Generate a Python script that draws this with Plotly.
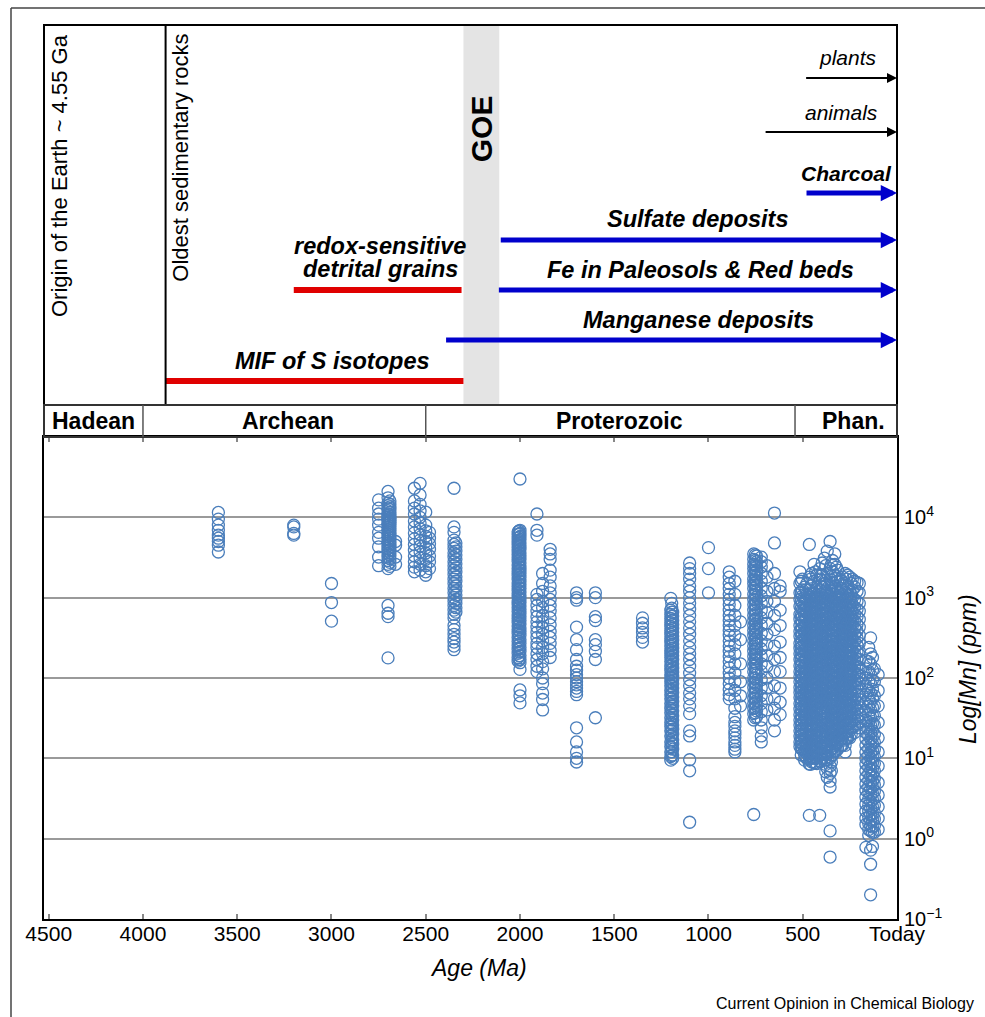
import plotly.graph_objects as go

# ---------------- DATA ----------------
# Mn concentration (ppm) of samples, grouped by sample age (Ma)
mn_3600 = [11500, 9500, 8000, 6900, 6000, 5500, 5000, 4500, 3700]
mn_3200 = [8000, 7600, 6300, 6000]
mn_3000 = [1500, 870, 510]
mn_2750 = [16500, 13000, 11000, 9500, 8000, 6500, 5500, 4300, 3200, 2500]
mn_2700 = [21000, 17500, 15000, 14000, 13000, 12000, 11000, 10500, 10000, 9500, 9000, 8500,
           8000, 7500, 7000, 6600, 6200, 5800, 5400, 5000, 4700, 4400, 4100, 3800, 3500,
           3200, 2900, 2600, 2300, 800, 640, 580, 178]
mn_2690 = [16000, 14500, 13500, 12500, 11500, 10800, 10200, 9700, 9200, 8700, 8200, 7700, 7200,
           6800, 6400, 6000, 5600, 5200, 4850, 4550, 4250, 3950, 3650, 3350, 3050, 2750, 2450]
mn_2660 = [5000, 4500, 3200, 2600]
mn_2560 = [23000, 16000, 13000, 11000, 9000, 7600, 6400, 5400, 4600, 3900, 3300, 2800, 2400, 2100]
mn_2530 = [26500, 19000, 14500, 12000, 10000, 8500, 7200, 6100, 5200, 4400, 3700, 3100, 2600, 2200]
mn_2500 = [11600, 8000, 6800, 5800, 5000, 4200, 3600, 3000, 2500, 2100, 1900]
mn_2480 = [6500, 5500, 4700, 4000, 3300, 2800, 2300]
mn_2350 = [23000, 7600, 6500, 5200, 4600, 4100, 3600, 3200, 2800, 2500, 2200, 1950, 1700, 1500,
           1300, 1150, 1000, 900, 800, 700, 620, 560, 450, 400, 350, 310, 280, 250, 225]
mn_2340 = [4800, 4300, 3800, 3400, 3000, 2650, 2350, 2080, 1820, 1600, 1400, 1220, 1080, 950,
           850, 750, 660]
mn_2000 = [30000, 6900, 6300, 5800, 5300, 4800, 4400, 4000, 3600, 3300, 3000, 2700, 2400, 2200,
           2000, 1800, 1600, 1450, 1300, 1180, 1060, 960, 870, 790, 710, 640, 580, 520, 470,
           420, 380, 340, 300, 270, 240, 215, 190, 170, 155, 128, 71, 60, 49]
mn_2005 = [6750, 6200, 5650, 5150, 4700, 4300, 3900, 3550, 3230, 2930, 2650, 2400, 2170, 1960,
           1770, 1600, 1450, 1310, 1190, 1080, 980, 890, 810, 735, 665, 600, 540, 487, 438, 394,
           355, 320, 288, 260, 234, 210, 189, 170]
mn_2010 = [6600, 6100, 5500, 5000, 4600, 4200, 3800, 3450, 3150, 2850, 2550, 2300, 2100, 1900,
           1700, 1520, 1380, 1240, 1120, 1010, 910, 830, 750, 675, 610, 550, 495, 445, 400, 360,
           320, 285, 255, 228, 203, 180, 162]
mn_1910 = [11000, 6900, 6000, 1100, 950, 800, 680, 580, 500, 430, 370, 320, 270, 240, 200, 170, 140, 120]
mn_1880 = [2000, 1500, 1200, 900, 750, 600, 500, 420, 350, 290, 240, 200, 160, 130, 100, 85, 65, 54, 40]
mn_1840 = [4000, 3500, 3000, 2200, 1800, 1400, 1150, 950, 800, 680, 560, 460, 380, 320, 270, 220, 180]
mn_1700 = [1150, 1000, 930, 430, 300, 225, 170, 140, 125, 110, 100, 90, 82, 75, 68, 62, 24, 16, 12, 10, 9]
mn_1600 = [1150, 1000, 580, 520, 300, 260, 215, 170, 32]
mn_1350 = [560, 480, 420, 370, 320, 280]
mn_1200 = [980, 700, 620, 550, 490, 440, 390, 350, 310, 280, 250, 220, 200, 180, 160, 140, 125,
           110, 100, 90, 80, 70, 62, 55, 48, 42, 37, 32, 28, 25, 22, 19, 16, 14, 12, 10.5, 9.5]
mn_1195 = [850, 740, 660, 585, 520, 462, 410, 365, 325, 290, 258, 230, 205, 182, 162, 144, 128,
           114, 101, 90, 80, 71, 63, 56, 50, 44.5, 39.5, 35, 31, 27.5, 24.5, 21.8, 19.4, 17.2,
           15.3, 13.6, 12.1, 10.8]
mn_1190 = [660, 590, 520, 465, 415, 370, 330, 295, 265, 235, 210, 190, 170, 150, 132, 118, 105,
           95, 85, 75, 66, 58, 51, 45, 39, 34, 30, 26, 23, 20, 17, 15, 13, 11, 10]
mn_1100 = [2700, 2300, 2000, 1700, 1400, 1200, 1000, 850, 720, 600, 500, 420, 350, 290, 240, 200,
           170, 140, 115, 95, 80, 65, 55, 45, 36, 22, 19, 9.6, 7, 1.6]
mn_1000 = [4200, 2300, 1150]
mn_890 = [2100, 1800, 1500, 1300, 1100, 950, 820, 700, 600, 520, 450, 390, 340, 290, 250, 215,
          185, 160, 135, 115, 100, 85, 72, 62, 55]
mn_860 = [1600, 1100, 800, 600, 450, 340, 260, 200, 150, 115, 90, 70, 55, 42, 33, 28, 25, 22, 20,
          18, 16, 14.5, 13, 12]
mn_830 = [500, 300, 150, 90, 60, 45]
mn_760 = [3500, 3000, 2600, 2300, 2000, 1700, 1500, 1300, 1100, 950, 820, 700, 600, 520, 450, 390,
          340, 290, 250, 215, 185, 160, 140, 120, 100, 88, 76, 65, 56, 48, 42, 36, 30, 2.0]
mn_752 = [3400, 2900, 2500, 2200, 1900, 1650, 1430, 1240, 1080, 940, 815, 710, 615, 535, 465, 405,
          350, 305, 265, 230, 200, 174, 151, 131, 114, 99, 86, 75, 65, 56.5, 49, 42.5, 37, 32]
mn_745 = [3300, 2800, 2450, 2150, 1850, 1600, 1400, 1200, 1020, 880, 760, 650, 560, 485, 420, 365,
          315, 270, 232, 200, 172, 150, 130, 110, 94, 82, 70, 60, 52, 45, 39, 33]
mn_720 = [3200, 2800, 2400, 2000, 1600, 1300, 1050, 850, 700, 560, 450, 360, 290, 230, 185, 150,
          120, 95, 75, 60, 48, 38, 30, 24, 19, 16]
mn_690 = [2500, 1800, 1200, 900, 650, 480, 350, 260, 190, 140, 100, 75, 55, 40]
mn_650 = [11300, 4800, 2000, 1300, 900, 600, 400, 250, 170, 120, 80, 55, 42, 30, 22]
mn_620 = [1400, 1200, 700, 450, 280, 180, 120, 75, 50, 35]
mn_515 = [2100, 1500, 1150, 950, 780, 620, 540, 450, 380, 330, 270, 235, 200, 170, 142, 120, 104,
          90, 76, 66, 57, 48, 41, 35, 30, 26, 22, 19, 16, 14]
mn_508 = [1600, 1180, 900, 740, 610, 500, 415, 345, 288, 240, 200, 167, 139, 116, 97, 81, 68, 56,
          47, 39, 32.5, 27, 22.5, 18.8, 15.7, 13.1, 11]
mn_502 = [1700, 1250, 1050, 860, 700, 580, 495, 415, 355, 300, 250, 215, 185, 155, 131, 112, 97,
          83, 71, 61, 52, 44, 38, 32, 27.5, 23.5, 20, 17, 15, 13]
mn_490 = [1350, 1000, 870, 700, 600, 510, 430, 370, 310, 265, 225, 195, 165, 140, 118, 100, 86,
          73, 62, 53, 45, 38, 33, 28, 24, 20, 17, 14.5, 12.5, 11, 9.5]
mn_484 = [1250, 960, 800, 660, 545, 450, 372, 308, 255, 211, 175, 145, 120, 99, 82, 68, 56, 46.5,
          38.5, 32, 26.5, 22, 18.2, 15, 12.4, 10.3]
mn_478 = [1500, 1100, 930, 760, 640, 550, 460, 395, 335, 285, 240, 205, 175, 150, 127, 108, 92,
          79, 67, 57, 49, 42, 36, 30, 26, 22, 18.5, 15.5, 13, 11.5, 10]
mn_465 = [4600, 1800, 1250, 1020, 830, 690, 580, 490, 420, 355, 300, 255, 215, 182, 155, 132, 112,
          95, 81, 69, 59, 50, 43, 37, 31, 26, 22, 19, 16, 13.5, 11.5, 9.8, 8.5, 1.95]
mn_458 = [1700, 1150, 960, 790, 655, 540, 447, 370, 306, 253, 209, 173, 143, 118, 98, 81, 67,
          55.5, 46, 38, 31.5, 26, 21.5, 17.8, 14.7, 12.2, 10.1, 8.4]
mn_452 = [2000, 1400, 1100, 900, 740, 620, 520, 445, 375, 318, 268, 228, 192, 165, 140, 118, 100,
          85, 72, 61, 52, 44, 38, 32, 27, 23, 19.5, 16.5, 14, 12, 10.3, 9]
mn_440 = [2600, 1600, 1150, 940, 780, 650, 545, 460, 390, 330, 280, 238, 200, 170, 145, 123, 104,
          88, 75, 64, 54, 46, 39, 33, 28, 24, 20, 17, 14.5, 12, 10, 8.8]
mn_432 = [2100, 1250, 990, 810, 670, 555, 459, 380, 314, 260, 215, 178, 147, 122, 101, 83, 69, 57,
          47, 39, 32.3, 26.7, 22.1, 18.3, 15.1, 12.5, 10.4, 8.7]
mn_425 = [1900, 1350, 1080, 880, 730, 610, 515, 435, 368, 312, 264, 224, 190, 161, 137, 116, 98,
          83, 71, 60, 51, 44, 37, 31, 26.5, 22.5, 19, 16.2, 13.8, 11.7, 10, 8.6]
mn_410 = [2300, 1700, 1250, 980, 800, 670, 560, 470, 400, 340, 288, 245, 208, 176, 150, 127, 108,
          92, 78, 66, 56, 48, 41, 35, 29, 25, 21, 18, 15, 12.8, 10.9, 9.3, 1.95]
mn_404 = [1900, 1400, 1100, 880, 725, 600, 497, 411, 340, 281, 232, 192, 159, 131, 108, 89.5, 74,
          61, 50.5, 41.8, 34.5, 28.5, 23.6, 19.5, 16.1, 13.3, 11, 9.1]
mn_397 = [2700, 1900, 1350, 1050, 870, 720, 600, 505, 425, 360, 305, 258, 219, 185, 157, 133, 113,
          96, 81, 69, 59, 50, 42, 36, 30.5, 26, 22, 18.8, 16, 13.6, 11.6, 9.9]
mn_385 = [3100, 1500, 1150, 900, 760, 630, 530, 450, 380, 320, 272, 230, 196, 166, 141, 120, 101,
          86, 73, 62, 52, 44, 37, 31, 26, 22, 18.5, 15.6, 13.2, 11.2, 9.5]
mn_378 = [2500, 1650, 1250, 990, 815, 674, 557, 461, 381, 315, 260, 215, 178, 147, 121, 100, 83,
          68.5, 56.6, 46.8, 38.7, 32, 26.4, 21.8, 18, 14.9, 12.3, 10.2, 8.4, 6.8]
mn_370 = [3800, 2000, 1450, 1150, 940, 780, 650, 545, 460, 390, 330, 280, 237, 200, 170, 144, 122,
          103, 87, 74, 63, 53, 45, 38, 32, 27, 23, 19.5, 16.5, 14, 11.8, 9.7, 7.5, 5.8]
mn_355 = [5000, 2300, 1700, 1300, 1050, 860, 710, 590, 500, 420, 355, 300, 255, 216, 183, 155, 131,
          111, 94, 80, 68, 57, 48, 41, 35, 30, 25, 21, 18, 15, 12.5, 10, 8, 6.5, 5.2, 4.4, 1.25, 0.59]
mn_348 = [2600, 1850, 1400, 1100, 890, 735, 607, 502, 415, 343, 283, 234, 193, 160, 132, 109, 90,
          74.5, 61.5, 50.8, 42, 34.7, 28.7, 23.7, 19.6, 16.2, 13.4, 11, 9, 7]
mn_342 = [2900, 2100, 1550, 1200, 970, 800, 660, 550, 460, 390, 330, 280, 238, 201, 170, 144, 122,
          103, 88, 74, 63, 53, 45, 38, 32, 27, 22.5, 19, 16, 13.2, 11]
mn_330 = [3500, 2600, 1900, 1400, 1100, 900, 740, 610, 510, 430, 365, 310, 262, 222, 188, 159, 135,
          114, 97, 82, 70, 59, 50, 42, 36, 30, 25, 21, 17.5, 14.5, 12]
mn_322 = [2400, 1750, 1300, 1020, 830, 685, 566, 468, 387, 320, 264, 218, 180, 149, 123, 102, 84,
          69.5, 57.4, 47.5, 39.2, 32.4, 26.8, 22.1, 18.3, 15.1, 12.5]
mn_315 = [2200, 1600, 1200, 960, 790, 650, 545, 455, 385, 325, 275, 233, 197, 167, 141, 119, 101,
          86, 73, 62, 52, 44, 37, 31.5, 26.5, 22.5, 19, 15.8, 13]
mn_300 = [1700, 1300, 1050, 870, 720, 600, 500, 420, 355, 300, 254, 215, 182, 154, 130, 110, 93,
          79, 67, 57, 48, 41, 35, 29, 24.5, 20.5, 17, 14.2]
mn_294 = [1600, 1200, 980, 800, 660, 546, 451, 373, 308, 255, 211, 174, 144, 119, 98, 81, 67,
          55.4, 45.8, 37.8, 31.3, 25.8, 21.3, 17.6, 14.5]
mn_288 = [1800, 1400, 1100, 900, 740, 615, 510, 430, 362, 306, 259, 219, 185, 157, 133, 112, 95,
          80, 68, 58, 49, 41, 35, 29.5, 25, 21, 17.5, 14.6]
mn_275 = [2000, 1500, 1150, 930, 770, 640, 530, 445, 375, 318, 270, 228, 193, 163, 138, 117, 99,
          84, 71, 60, 51, 43, 36, 30, 25, 21, 17.5, 14.5, 12]
mn_268 = [1700, 1280, 1000, 810, 665, 550, 454, 375, 310, 256, 212, 175, 145, 120, 99, 82, 67.6,
          55.9, 46.2, 38.2, 31.5, 26, 21.5, 17.8]
mn_262 = [1900, 1350, 1050, 850, 700, 580, 480, 405, 340, 288, 243, 205, 174, 147, 124, 105, 89,
          75, 63, 53, 45, 37, 31, 26, 21.5, 17.8]
mn_250 = [1800, 1200, 960, 780, 640, 530, 440, 370, 312, 264, 223, 188, 159, 134, 113, 96, 81, 68,
          57, 48, 40, 33, 27, 22, 18]
mn_243 = [1500, 1100, 880, 710, 580, 475, 390, 320, 262, 215, 176, 145, 119, 97, 80, 65.5, 53.7,
          44, 36, 29.5, 24.2, 19.8]
mn_237 = [1700, 1250, 1000, 800, 650, 535, 445, 370, 310, 260, 218, 183, 153, 128, 107, 89, 74,
          61, 51, 42, 35, 29, 24]
mn_225 = [1600, 1350, 950, 760, 620, 510, 420, 350, 290, 240, 200, 165, 137, 113, 94, 78, 64, 53,
          44, 36, 30, 25, 21]
mn_212 = [1550, 1200, 900, 720, 580, 470, 385, 315, 258, 211, 172, 140, 114, 93, 76, 62, 50, 41,
          33, 27]
mn_200 = [1500, 1150, 850, 680, 540, 430, 340, 270, 215, 170, 135, 108, 86, 68, 54, 43, 35, 29, 24]
mn_165 = [165, 130, 100, 80, 62, 48, 38, 30, 25, 21, 17.5, 14.5, 12, 10, 8.5, 7, 5.8, 4.8, 4, 3.3,
          2.7, 2.2, 1.8, 1.5, 0.78]
mn_150 = [240, 160, 120, 90, 70, 55, 44, 35, 28, 23, 19, 15.8, 13, 11, 9.2, 7.8, 6.5, 5.4, 4.5,
          3.8, 3.1, 2.6, 2.2, 1.85, 1.55, 1.3, 1.1]
mn_140 = [316, 200, 150, 110, 85, 65, 50, 40, 32, 26, 21, 17.5, 14.5, 12, 10, 8.5, 7.2, 6, 5, 4.2,
          3.5, 2.9, 2.4, 2, 1.7, 1.45, 1.25, 0.72, 0.48, 0.2]
mn_130 = [180, 125, 95, 72, 56, 43, 34, 27, 22, 18, 15, 12.5, 10.5, 8.8, 7.4, 6.2, 5.2, 4.4, 3.7,
          3.05, 2.5, 2.05, 1.7, 1.4, 1.2, 0.8]
mn_120 = [130, 90, 60, 45, 34, 26, 20, 16, 13, 10.5, 8.6, 7, 5.7, 4.7, 3.9, 3.2, 2.6, 2.1, 1.75,
          1.45, 1.2]
mn_100 = [110, 70, 45, 28, 18, 12, 8, 5, 3.5, 2.5, 1.8, 1.3]

sample_ages = [3600, 3200, 3000, 2750, 2700, 2690, 2660, 2560, 2530, 2500, 2480, 2350, 2340,
               2000, 2005, 2010, 1910, 1880, 1840, 1700, 1600, 1350, 1200, 1195, 1190, 1100, 1000,
               890, 860, 830, 760, 752, 745, 720, 690, 650, 620, 515, 508, 502, 490, 484, 478,
               465, 458, 452, 440, 432, 425, 410, 404, 397, 385, 378, 370, 355, 348, 342, 330,
               322, 315, 300, 294, 288, 275, 268, 262, 250, 243, 237, 225, 212, 200, 165, 150,
               140, 130, 120, 100]
sample_mn = [mn_3600, mn_3200, mn_3000, mn_2750, mn_2700, mn_2690, mn_2660, mn_2560, mn_2530,
             mn_2500, mn_2480, mn_2350, mn_2340, mn_2000, mn_2005, mn_2010, mn_1910, mn_1880,
             mn_1840, mn_1700, mn_1600, mn_1350, mn_1200, mn_1195, mn_1190, mn_1100, mn_1000,
             mn_890, mn_860, mn_830, mn_760, mn_752, mn_745, mn_720, mn_690, mn_650, mn_620,
             mn_515, mn_508, mn_502, mn_490, mn_484, mn_478, mn_465, mn_458, mn_452, mn_440,
             mn_432, mn_425, mn_410, mn_404, mn_397, mn_385, mn_378, mn_370, mn_355, mn_348,
             mn_342, mn_330, mn_322, mn_315, mn_300, mn_294, mn_288, mn_275, mn_268, mn_262,
             mn_250, mn_243, mn_237, mn_225, mn_212, mn_200, mn_165, mn_150, mn_140, mn_130,
             mn_120, mn_100]

# Geological eons (Ma)
eon_names = ["Hadean", "Archean", "Proterozoic", "Phan."]
eon_start = [4550, 4000, 2500, 541]
eon_end = [4000, 2500, 541, 0]

# Events / proxies (Ma)
goe_start, goe_end = 2300, 2110
oldest_rocks_age = 3880

red_names = [["MIF of S isotopes"], ["redox-sensitive", "detrital grains"]]
red_start = [3880, 3200]
red_end = [2300, 2310]

blue_names = ["Manganese deposits", "Fe in Paleosols & Red beds", "Sulfate deposits", "Charcoal"]
blue_start = [2400, 2120, 2110, 488]

black_names = ["animals", "plants"]
black_start = [705, 490]

x_tick_vals = [4500, 4000, 3500, 3000, 2500, 2000, 1500, 1000, 500, 0]
x_tick_text = ["4500", "4000", "3500", "3000", "2500", "2000", "1500", "1000", "500", "Today"]
y_tick_vals = [0.1, 1, 10, 100, 1000, 10000]
y_tick_text = ["10<sup>\u22121</sup>", "10<sup>0</sup>", "10<sup>1</sup>", "10<sup>2</sup>",
               "10<sup>3</sup>", "10<sup>4</sup>"]

# ---------------- LAYOUT HELPERS ----------------
W, H = 985, 1017
FONT = "Liberation Sans, Arial, Helvetica, sans-serif"
X_MAX = 4525


def pxx(x):
    return x / W


def pyy(y):
    return 1 - y / H


def row(y):  # top panel axis units (pixels above its bottom edge)
    return 405 - y


def label(text, x, y, size, xref="x2", yref="y2", angle=0, xanchor="center"):
    return dict(text=text, x=x, y=y, xref=xref, yref=yref, textangle=angle, showarrow=False,
                xanchor=xanchor, yanchor="middle",
                font=dict(size=size, color="black", family=FONT))


fig = go.Figure()

xs, ys = [], []
for a, col in zip(sample_ages, sample_mn):
    xs += [a] * len(col)
    ys += col

fig.add_trace(go.Scatter(
    x=xs, y=ys, mode="markers", xaxis="x", yaxis="y", hoverinfo="skip", showlegend=False,
    marker=dict(symbol="circle-open", size=12, color="#4a7ebb", line=dict(width=1.3)),
))

red_rows = [row(381), row(290)]
for s, e, r in zip(red_start, red_end, red_rows):
    fig.add_trace(go.Scatter(x=[s, e], y=[r, r], mode="lines", xaxis="x2", yaxis="y2",
                             line=dict(color="#e00000", width=6), hoverinfo="skip",
                             showlegend=False))

shapes = []
shapes.append(dict(type="rect", xref="x2", yref="paper", x0=goe_start, x1=goe_end,
                   y0=pyy(405), y1=pyy(25), fillcolor="#e4e4e4", line=dict(width=0),
                   layer="below"))
shapes.append(dict(type="rect", xref="paper", yref="paper", x0=pxx(44), x1=pxx(897),
                   y0=pyy(405), y1=pyy(25), line=dict(color="black", width=2)))
shapes.append(dict(type="line", xref="x2", yref="paper", x0=oldest_rocks_age,
                   x1=oldest_rocks_age, y0=pyy(405), y1=pyy(25),
                   line=dict(color="black", width=2)))
shapes.append(dict(type="rect", xref="paper", yref="paper", x0=pxx(44), x1=pxx(897),
                   y0=pyy(437), y1=pyy(405), line=dict(color="#333", width=2)))
for b in eon_end[:-1]:
    shapes.append(dict(type="line", xref="x2", yref="paper", x0=b, x1=b, y0=pyy(437),
                       y1=pyy(405), line=dict(color="#555", width=1.5)))
shapes.append(dict(type="line", xref="paper", yref="paper", x0=pxx(11), x1=1.01, y0=pyy(8),
                   y1=pyy(8), line=dict(color="#444", width=1.5)))
shapes.append(dict(type="line", xref="paper", yref="paper", x0=pxx(11), x1=pxx(11),
                   y0=pyy(8), y1=-0.01, line=dict(color="#444", width=1.5)))

ann = []
eon_label_age = [4260, 3230, 1470, 232]
for n, a in zip(eon_names, eon_label_age):
    ann.append(label("<b>%s</b>" % n, a, pyy(421), 23, yref="paper"))

ann.append(label("Origin of the Earth ~ 4.55 Ga", 4440, row(176), 22, angle=-90))
ann.append(label("Oldest sedimentary rocks", 3800, row(158), 22, angle=-90))
ann.append(label("<b>GOE</b>", (goe_start + goe_end) / 2 - 5, row(129), 30, angle=-90))

red_label_x = [2996, 2742]
red_label_y = [row(361), row(246)]
for lines, lx, ly in zip(red_names, red_label_x, red_label_y):
    for i, t in enumerate(lines):
        ann.append(label("<b><i>%s</i></b>" % t, lx, ly - 23 * i, 23.5))

blue_rows = [row(340), row(290), row(240), row(193)]
blue_label_x = [1055, 1045, 1055, 270]
blue_label_y = [row(320), row(270), row(219), row(174)]
blue_sizes = [23.5, 23.5, 23.5, 21]
for n, s, r, lx, ly, fs in zip(blue_names, blue_start, blue_rows, blue_label_x, blue_label_y,
                               blue_sizes):
    ann.append(dict(text="", x=0, y=r, ax=s, ay=r, xref="x2", yref="y2", axref="x2",
                    ayref="y2", showarrow=True, arrowhead=2, arrowsize=0.65, arrowwidth=5,
                    arrowcolor="#0000cc", standoff=0))
    ann.append(label("<b><i>%s</i></b>" % n, lx, ly, fs))

black_rows = [row(132), row(78)]
black_label_x = [297, 260]
black_label_y = [row(113), row(58)]
for n, s, r, lx, ly in zip(black_names, black_start, black_rows, black_label_x, black_label_y):
    ann.append(dict(text="", x=0, y=r, ax=s, ay=r, xref="x2", yref="y2", axref="x2",
                    ayref="y2", showarrow=True, arrowhead=2, arrowsize=1, arrowwidth=2,
                    arrowcolor="black", standoff=0))
    ann.append(label("<i>%s</i>" % n, lx, ly, 21))

ann.append(label("<i>Age (Ma)</i>", pxx(478), pyy(968), 23, xref="paper", yref="paper"))
ann.append(label("<i>Log[Mn] (ppm)</i>", pxx(968), pyy(669), 23, xref="paper", yref="paper",
                 angle=-90))
ann.append(label("Current Opinion in Chemical Biology", pxx(976), pyy(1003), 16,
                 xref="paper", yref="paper", xanchor="right"))

fig.update_layout(
    width=W, height=H, autosize=False, margin=dict(l=0, r=0, t=0, b=0, autoexpand=False),
    paper_bgcolor="white", plot_bgcolor="white", showlegend=False,
    font=dict(family=FONT, color="black"),
    xaxis=dict(domain=[pxx(44), pxx(897)], range=[X_MAX, 0], anchor="y", showgrid=False,
               automargin=False, zeroline=False, showline=True, linecolor="black", linewidth=2,
               mirror="ticks", ticks="inside", ticklen=5, tickwidth=1.5, tickcolor="#888",
               tickvals=x_tick_vals, ticktext=x_tick_text, ticklabelstandoff=-5,
               tickfont=dict(size=21, color="black", family=FONT)),
    yaxis=dict(domain=[pyy(919), pyy(437)], type="log", range=[-1, 5], anchor="x", side="right",
               automargin=False, showline=True, linecolor="black", linewidth=2, mirror=True,
               showgrid=True, gridcolor="#9a9a9a", gridwidth=1.8, zeroline=False,
               ticks="outside", ticklen=1, tickcolor="rgba(0,0,0,0)", tickvals=y_tick_vals,
               ticktext=y_tick_text, tickfont=dict(size=20, color="black", family=FONT)),
    xaxis2=dict(domain=[pxx(44), pxx(897)], range=[X_MAX, 0], anchor="y2", visible=False,
                automargin=False),
    yaxis2=dict(domain=[pyy(405), pyy(25)], range=[0, 380], anchor="x2", visible=False,
                automargin=False),
    shapes=shapes, annotations=ann,
)

fig.write_html("out.html", config={"displayModeBar": False},
               post_script="document.body.style.margin='0px';")
